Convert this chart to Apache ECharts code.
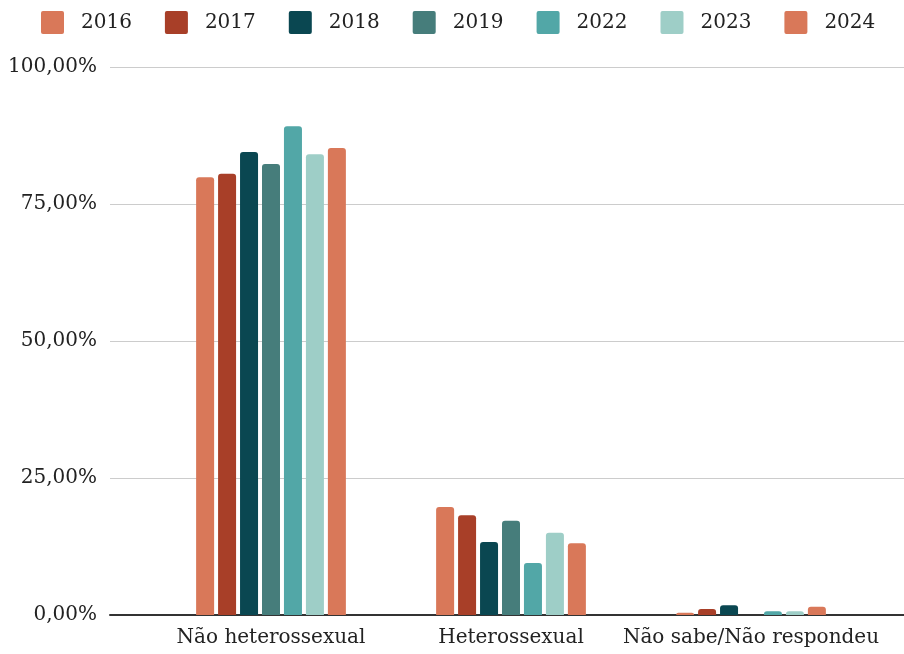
<!DOCTYPE html>
<html>
<head>
<meta charset="utf-8">
<script src="https://cdn.jsdelivr.net/npm/echarts@6/dist/echarts.min.js"></script>
<style>
  html, body { margin: 0; padding: 0; background: #fff; }
  #chart { width: 904px; height: 654px; }
</style>
</head>
<body>
<div id="chart"></div>
<script>
// categorias e séries
const categories = ['Não heterossexual', 'Heterossexual', 'Não sabe/Não respondeu']
const years = ['2016', '2017', '2018', '2019', '2022', '2023', '2024']
const v2016 = [79.9, 19.7, 0.4]
const v2017 = [80.5, 18.2, 1.1]
const v2018 = [84.5, 13.3, 1.8]
const v2019 = [82.3, 17.2, 0]
const v2022 = [89.2, 9.5, 0.7]
const v2023 = [84.1, 15.0, 0.7]
const v2024 = [85.2, 13.1, 1.5]
const yTicks = [0, 25, 50, 75, 100]

const colors = ['#d97859', '#a83f28', '#0a4751', '#467d7b', '#52a7a7', '#9ecec7', '#d97859']
const values = [v2016, v2017, v2018, v2019, v2022, v2023, v2024]
const font = 'DejaVu Serif'

const chart = echarts.init(document.getElementById('chart'), null, { renderer: 'canvas' })

const option = {
  animation: false,
  color: colors,
  legend: {
    top: 6,
    left: 36,
    itemWidth: 23,
    itemHeight: 23,
    itemGap: 33,
    icon: 'path://M2,0 H21 A2,2 0 0 1 23,2 V21 A2,2 0 0 1 21,23 H2 A2,2 0 0 1 0,21 V2 A2,2 0 0 1 2,0 Z',
    textStyle: { fontFamily: font, fontSize: 20, color: '#222', padding: [0, 0, 0, 12] },
    data: years,
  },
  grid: [
    { left: 110, right: 0, top: 67, bottom: 39 },
    { left: 151, right: 33, top: 67, bottom: 39 },
  ],
  xAxis: [
    {
      gridIndex: 0,
      type: 'category',
      data: [''],
      axisLine: { show: true, lineStyle: { color: '#333', width: 2 } },
      axisTick: { show: false },
      axisLabel: { show: false },
    },
    {
      gridIndex: 1,
      type: 'category',
      data: categories,
      axisLine: { show: false },
      axisTick: { show: false },
      axisLabel: { interval: 0, fontFamily: font, fontSize: 20, color: '#222', margin: 13 },
    },
  ],
  yAxis: [
    {
      gridIndex: 0,
      type: 'value',
      min: yTicks[0],
      max: yTicks[yTicks.length - 1],
      interval: 25,
      axisLine: { show: false },
      axisTick: { show: false },
      axisLabel: {
        fontFamily: font,
        fontSize: 20,
        color: '#222',
        margin: 13,
        formatter: (v) => v.toFixed(2).replace('.', ',') + '%',
      },
      splitLine: { show: true, lineStyle: { color: '#cccccc', width: 1 } },
    },
    {
      gridIndex: 1,
      type: 'value',
      min: yTicks[0],
      max: yTicks[yTicks.length - 1],
      interval: 25,
      show: false,
    },
  ],
  series: years.map((y, i) => ({
    name: y,
    type: 'bar',
    xAxisIndex: 1,
    yAxisIndex: 1,
    data: values[i],
    barWidth: 18,
    barGap: '22%',
    itemStyle: { color: colors[i], borderRadius: [3, 3, 0, 0] },
  })),
}

chart.setOption(option)
</script>
</body>
</html>
